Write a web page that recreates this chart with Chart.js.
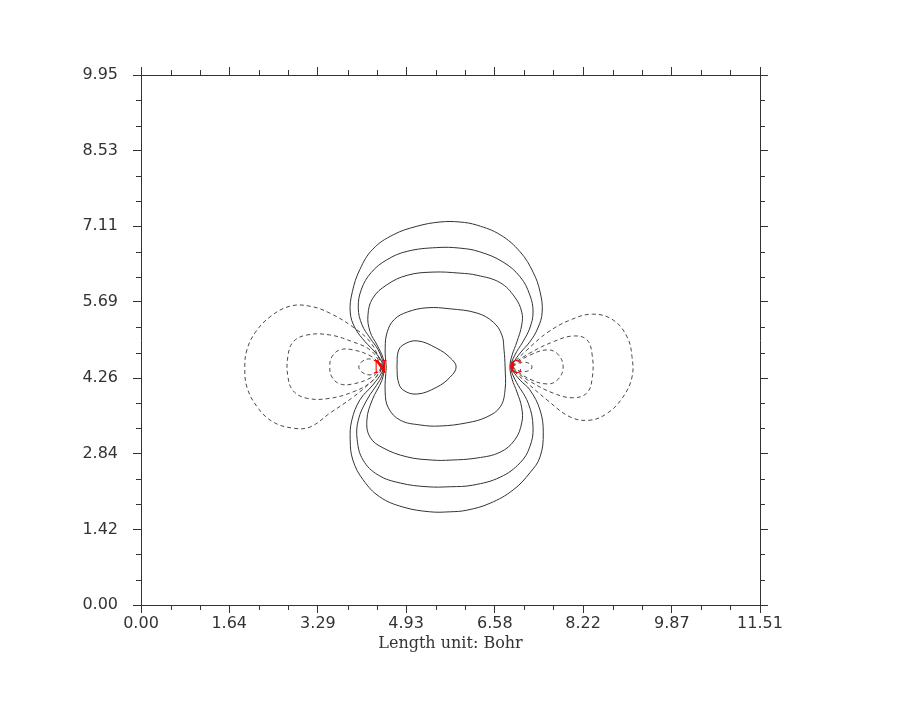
<!DOCTYPE html>
<html>
<head>
<meta charset="utf-8">
<title>Contorno orbital CN</title>
<script src="https://cdn.jsdelivr.net/npm/chart.js@4.4.1/dist/chart.umd.min.js"></script>
<style>
  html, body { margin: 0; padding: 0; background: #fff; }
</style>
</head>
<body>
<canvas id="plot" width="900" height="720"></canvas>
<script>
// === eixos ===
const xMax = 11.51;
const yMax = 9.95;
const xTicks = [0, 1.64, 3.29, 4.93, 6.58, 8.22, 9.87, 11.51];
const yTicks = [0, 1.42, 2.84, 4.26, 5.69, 7.11, 8.53, 9.95];
const xMinor = [0.55, 1.10, 2.19, 2.74, 3.84, 4.38, 5.48, 6.03, 7.12, 7.67, 8.77, 9.32, 10.41, 10.96];
const yMinor = [0.47, 0.95, 1.90, 2.37, 3.32, 3.79, 4.74, 5.21, 6.16, 6.63, 7.58, 8.06, 9.00, 9.48];
const axisTitle = 'Length unit: Bohr';

// === átomos ===
const atomLabels = ['N', 'C'];
const atomX = [4.45, 6.97];
const atomY = [4.47, 4.47];

// === contornos positivos (linha cheia) — [x, y] em Bohr ===
const pos1 = [[4.49,4.47],[4.48,4.56],[4.35,4.75],[4.17,4.94],[3.98,5.20],[3.89,5.50],[3.93,5.88],[4.07,6.30],[4.31,6.68],[4.69,6.95],[5.13,7.11],[5.56,7.19],[5.93,7.19],[6.25,7.13],[6.68,6.95],[7.05,6.63],[7.29,6.25],[7.42,5.88],[7.46,5.50],[7.38,5.20],[7.23,4.94],[7.05,4.73],[6.92,4.54],[6.90,4.47],[6.92,4.39],[7.05,4.22],[7.23,4.04],[7.42,3.66],[7.48,3.23],[7.42,2.78],[7.23,2.48],[6.92,2.16],[6.49,1.91],[6.06,1.78],[5.75,1.75],[5.37,1.75],[4.87,1.84],[4.44,2.03],[4.13,2.35],[3.94,2.72],[3.89,3.10],[3.92,3.47],[4.07,3.85],[4.31,4.13],[4.48,4.37],[4.49,4.47]];
const pos2 = [[4.51,4.47],[4.50,4.56],[4.41,4.79],[4.26,5.01],[4.11,5.26],[4.04,5.58],[4.10,5.93],[4.28,6.24],[4.57,6.48],[4.95,6.64],[5.50,6.71],[5.93,6.70],[6.30,6.63],[6.73,6.44],[7.05,6.16],[7.23,5.82],[7.29,5.50],[7.23,5.20],[7.10,4.94],[6.95,4.69],[6.88,4.47],[6.95,4.24],[7.20,3.79],[7.29,3.34],[7.23,2.97],[7.05,2.67],[6.68,2.40],[6.17,2.25],[5.75,2.22],[5.32,2.22],[4.82,2.29],[4.41,2.44],[4.13,2.72],[4.02,3.10],[4.04,3.47],[4.20,3.85],[4.44,4.22],[4.50,4.37],[4.51,4.47]];
const pos3 = [[4.53,4.47],[4.50,4.64],[4.39,4.88],[4.26,5.13],[4.22,5.44],[4.31,5.76],[4.57,6.01],[4.95,6.19],[5.43,6.25],[5.93,6.23],[6.25,6.19],[6.68,6.05],[6.95,5.78],[7.08,5.50],[7.08,5.26],[6.99,4.94],[6.90,4.69],[6.86,4.47],[6.90,4.24],[6.99,4.00],[7.08,3.70],[7.08,3.42],[6.95,3.10],[6.68,2.87],[6.25,2.76],[5.75,2.72],[5.43,2.72],[4.95,2.78],[4.50,2.95],[4.26,3.15],[4.20,3.47],[4.30,3.85],[4.48,4.22],[4.53,4.47]];
const pos4 = [[4.56,4.47],[4.54,4.82],[4.58,5.13],[4.71,5.36],[4.95,5.50],[5.32,5.58],[5.75,5.56],[6.25,5.48],[6.55,5.31],[6.71,5.07],[6.75,4.79],[6.77,4.47],[6.77,4.04],[6.68,3.72],[6.43,3.53],[6.06,3.42],[5.56,3.36],[5.19,3.38],[4.82,3.47],[4.60,3.70],[4.54,4.00],[4.56,4.47]];
const pos5 = [[4.76,4.47],[4.78,4.75],[4.87,4.88],[5.13,4.96],[5.50,4.82],[5.75,4.64],[5.86,4.47],[5.75,4.28],[5.50,4.09],[5.13,3.96],[4.87,4.04],[4.78,4.21],[4.76,4.47]];

// === contornos negativos (tracejado) ===
const negN1 = [[4.48,4.47],[4.44,4.60],[4.26,4.94],[3.94,5.22],[3.51,5.48],[3.14,5.61],[2.77,5.61],[2.40,5.41],[2.12,5.11],[1.97,4.79],[1.93,4.47],[1.97,4.09],[2.16,3.72],[2.45,3.44],[2.83,3.32],[3.14,3.34],[3.51,3.60],[3.94,3.90],[4.26,4.17],[4.44,4.36],[4.48,4.47]];
const negN2 = [[4.48,4.47],[4.44,4.56],[4.26,4.79],[3.94,4.94],[3.51,5.07],[3.09,5.07],[2.83,4.94],[2.73,4.66],[2.73,4.30],[2.83,4.02],[3.09,3.88],[3.51,3.88],[3.94,4.00],[4.26,4.17],[4.44,4.38],[4.48,4.47]];
const negN3 = [[4.48,4.47],[4.44,4.53],[4.26,4.68],[3.94,4.79],[3.70,4.79],[3.55,4.66],[3.51,4.47],[3.55,4.28],[3.70,4.15],[3.94,4.15],[4.26,4.26],[4.44,4.41],[4.48,4.47]];
const negN4 = [[4.48,4.47],[4.40,4.55],[4.26,4.62],[4.11,4.57],[4.05,4.47],[4.11,4.37],[4.26,4.32],[4.40,4.39],[4.48,4.47]];
const negC1 = [[6.91,4.47],[6.95,4.56],[7.18,4.79],[7.55,5.11],[7.98,5.35],[8.40,5.46],[8.78,5.35],[9.04,5.03],[9.13,4.66],[9.13,4.28],[8.96,3.90],[8.67,3.60],[8.35,3.47],[7.98,3.53],[7.55,3.85],[7.18,4.17],[6.95,4.38],[6.91,4.47]];
const negC2 = [[6.91,4.47],[6.95,4.54],[7.23,4.73],[7.66,4.94],[8.03,5.05],[8.29,4.98],[8.39,4.69],[8.39,4.26],[8.29,3.98],[8.03,3.89],[7.66,3.98],[7.23,4.20],[6.95,4.40],[6.91,4.47]];
const negC3 = [[6.91,4.47],[6.95,4.52],[7.23,4.69],[7.55,4.79],[7.75,4.71],[7.85,4.47],[7.75,4.23],[7.55,4.15],[7.23,4.24],[6.95,4.42],[6.91,4.47]];
const negC4 = [[6.91,4.47],[7.00,4.53],[7.10,4.56],[7.23,4.53],[7.27,4.47],[7.23,4.41],[7.10,4.38],[7.00,4.41],[6.91,4.47]];

const positivos = [pos1, pos2, pos3, pos4, pos5];
const negativos = [negN1, negN2, negN3, negN4, negC1, negC2, negC3, negC4];

const INK = '#333333';
const tickFont = { family: '"DejaVu Sans", sans-serif', size: 16 };

const toPts = (arr) => arr.map(([x, y]) => ({ x, y }));

const contour = (arr, dashed) => ({
  data: toPts(arr),
  showLine: true,
  borderColor: dashed ? '#4a4a4a' : INK,
  borderWidth: 1,
  borderDash: dashed ? [4, 3] : [],
  pointRadius: 0,
  tension: 0.4,
  fill: false,
});

// ticks fixos (major), mesmo valor em cima/embaixo e esquerda/direita
const setTicks = (vals) => (scale) => { scale.ticks = vals.map(v => ({ value: v })); };

// minor ticks nos 4 lados (5px pra fora)
const minorTicks = {
  id: 'minorTicks',
  afterDraw(chart) {
    const { ctx, chartArea: a, scales: { x, y } } = chart;
    ctx.save();
    ctx.strokeStyle = INK;
    ctx.lineWidth = 1;
    ctx.beginPath();
    for (const v of xMinor) {
      const px = Math.round(x.getPixelForValue(v)) + 0.5;
      ctx.moveTo(px, a.bottom); ctx.lineTo(px, a.bottom + 5);
      ctx.moveTo(px, a.top); ctx.lineTo(px, a.top - 5);
    }
    for (const v of yMinor) {
      const py = Math.round(y.getPixelForValue(v)) + 0.5;
      ctx.moveTo(a.left, py); ctx.lineTo(a.left - 5, py);
      ctx.moveTo(a.right, py); ctx.lineTo(a.right + 5, py);
    }
    ctx.stroke();
    ctx.restore();
  },
};

// rótulos dos átomos
const atomText = {
  id: 'atomText',
  afterDatasetsDraw(chart) {
    const { ctx, scales: { x, y } } = chart;
    ctx.save();
    ctx.fillStyle = '#ff0000';
    ctx.font = 'bold 18px "Liberation Serif", serif';
    ctx.textAlign = 'center';
    ctx.textBaseline = 'middle';
    atomLabels.forEach((lbl, i) => {
      ctx.fillText(lbl, x.getPixelForValue(atomX[i]), y.getPixelForValue(atomY[i]) + 1);
    });
    ctx.restore();
  },
};

const axisBase = (extra) => ({
  type: 'linear',
  grid: { drawOnChartArea: false, color: INK, tickColor: INK, tickLength: 8 },
  border: { display: true, color: INK, width: 1 },
  ...extra,
});

new Chart(document.getElementById('plot'), {
  type: 'scatter',
  data: {
    datasets: [
      ...positivos.map(c => contour(c, false)),
      ...negativos.map(c => contour(c, true)),
    ],
  },
  options: {
    responsive: false,
    animation: false,
    devicePixelRatio: 1,
    layout: { padding: { left: 0, top: 67, right: 132, bottom: 67 } },
    plugins: { legend: { display: false }, tooltip: { enabled: false } },
    scales: {
      x: axisBase({
        position: 'bottom', min: 0, max: xMax,
        afterBuildTicks: setTicks(xTicks),
        afterFit: (s) => { s.height = 48; },
        ticks: { color: INK, font: tickFont, padding: 1, maxRotation: 0, autoSkip: false,
          callback: (v) => Number(v).toFixed(2) },
        title: { display: true, text: axisTitle, color: INK, padding: 0,
          font: { family: '"DejaVu Serif", serif', size: 16 } },
      }),
      x2: axisBase({
        axis: 'x', position: 'top', min: 0, max: xMax,
        afterBuildTicks: setTicks(xTicks),
        afterFit: (s) => { s.height = 8; },
        ticks: { display: false },
      }),
      y: axisBase({
        position: 'left', min: 0, max: yMax,
        afterBuildTicks: setTicks(yTicks),
        afterFit: (s) => { s.width = 141; },
        ticks: { color: INK, font: tickFont, padding: 15, autoSkip: false,
          callback: (v) => Number(v).toFixed(2) },
      }),
      y2: axisBase({
        axis: 'y', position: 'right', min: 0, max: yMax,
        afterBuildTicks: setTicks(yTicks),
        afterFit: (s) => { s.width = 8; },
        ticks: { display: false },
      }),
    },
  },
  plugins: [minorTicks, atomText],
});
</script>
</body>
</html>
